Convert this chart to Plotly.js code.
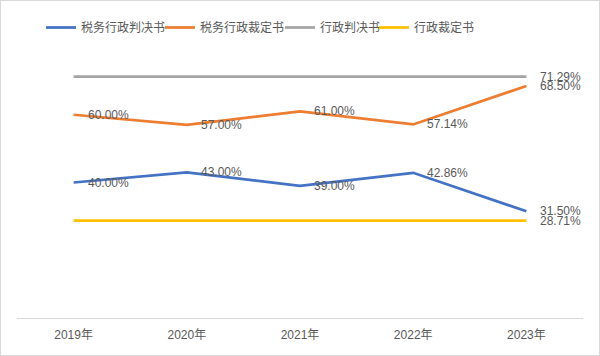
<!DOCTYPE html>
<html>
<head>
<meta charset="utf-8">
<script src="https://cdn.plot.ly/plotly-3.0.1.min.js"></script>
<style>
html,body{margin:0;padding:0;background:#fff;}
#wrap{position:relative;width:600px;height:356px;}
#chart{width:600px;height:356px;}
#frame{position:absolute;left:0;top:0;width:598px;height:354px;border:1px solid #d9d9d9;pointer-events:none;}
</style>
</head>
<body>
<div id="wrap"><div id="chart"></div><div id="frame"></div></div>
<script>
const years = ['2019年','2020年','2021年','2022年','2023年'];
const taxJudgment = [40.00, 43.00, 39.00, 42.86, 31.50];
const taxRuling = [60.00, 57.00, 61.00, 57.14, 68.50];
const adminJudgment = [71.29, 71.29, 71.29, 71.29, 71.29];
const adminRuling = [28.71, 28.71, 28.71, 28.71, 28.71];
const seriesNames = ['税务行政判决书','税务行政裁定书','行政判决书','行政裁定书'];
const seriesColors = ['#4472C4','#ED7D31','#A5A5A5','#FFC000'];
// which points carry a data label
const labelAll = [true,true,true,true,true];
const labelLast = [false,false,false,false,true];

const FONT = 'Liberation Sans, Arial, "Noto Sans CJK SC", sans-serif';
const series = [taxJudgment, taxRuling, adminJudgment, adminRuling];
const labelMasks = [labelAll, labelAll, labelLast, labelLast];
const legendIds = ['legend','legend2','legend3','legend4'];
const legendLeft = [41, 160, 280, 374]; // px from left of page

const traces = series.map((vals, i) => ({
  type: 'scatter', mode: 'lines', name: seriesNames[i],
  x: years, y: vals, legend: legendIds[i],
  line: {color: seriesColors[i], width: 2.75},
  hoverinfo: 'none'
}));

const annotations = [];
series.forEach((vals, i) => {
  vals.forEach((v, j) => {
    if (!labelMasks[i][j]) return;
    annotations.push({
      x: years[j], y: v, xref: 'x', yref: 'y',
      text: v.toFixed(2) + '%', showarrow: false,
      xanchor: 'left', yanchor: 'middle', xshift: 12,
      font: {family: FONT, size: 12, color: '#595959'}
    });
  });
});

const legendFont = {family: FONT, size: 12, color: '#595959'};
const layout = {
  width: 600, height: 356,
  margin: {l: 17, r: 17, t: 47, b: 38},
  paper_bgcolor: '#ffffff', plot_bgcolor: '#ffffff',
  font: {family: FONT, size: 12, color: '#595959'},
  showlegend: true,
  xaxis: {
    type: 'category', range: [-0.5, 4.5], fixedrange: true,
    showline: true, linecolor: '#d9d9d9', linewidth: 1,
    showgrid: false, zeroline: false, ticks: '',
    ticklabelstandoff: 6,
    tickfont: {family: FONT, size: 12, color: '#595959'}
  },
  yaxis: {
    range: [0, 80], fixedrange: true,
    showgrid: false, zeroline: false, showline: false, showticklabels: false
  },
  annotations: annotations
};
legendIds.forEach((id, i) => {
  layout[id] = {
    orientation: 'h', xref: 'container', yref: 'container',
    x: legendLeft[i] / 600, xanchor: 'left',
    y: 1 - 13 / 356, yanchor: 'top',
    font: legendFont, bgcolor: 'rgba(0,0,0,0)', borderwidth: 0
  };
});

Plotly.newPlot('chart', traces, layout, {displayModeBar: false, staticPlot: true});
</script>
</body>
</html>
